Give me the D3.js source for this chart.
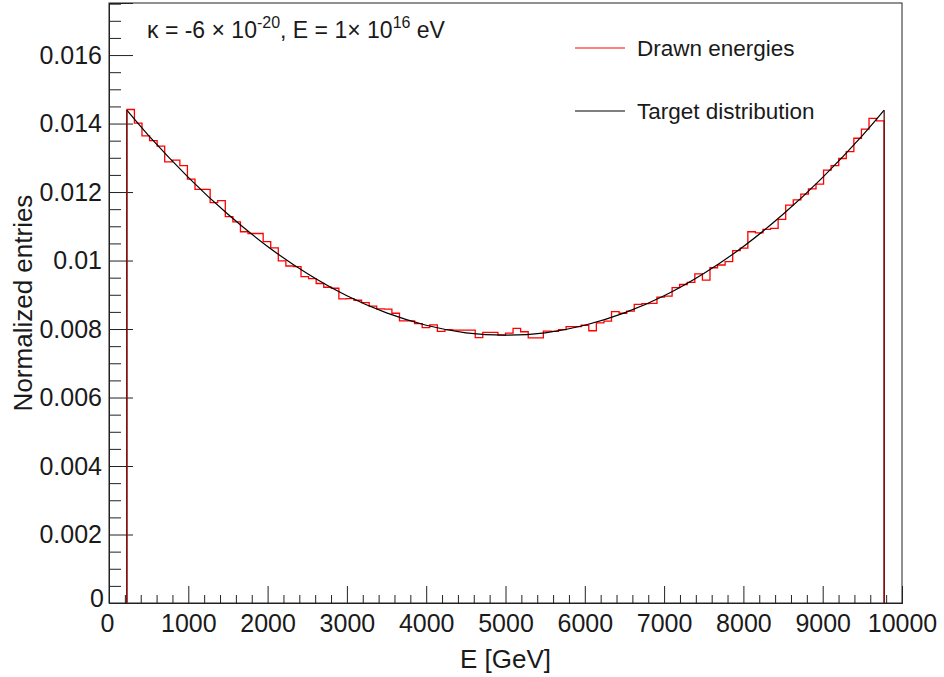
<!DOCTYPE html>
<html>
<head>
<meta charset="utf-8">
<script src="https://cdn.jsdelivr.net/npm/d3@7"></script>
<style>
  body { margin: 0; background: #fff; }
  text { font-family: "Liberation Sans", Arial, Helvetica, sans-serif; fill: #1a1a1a; }
</style>
</head>
<body>
<svg id="chart" width="944" height="677"></svg>
<script>
// histogram range (GeV) and normalized bin contents
var binRange = [225, 9775]
var drawnEnergies = [
  0.01441, 0.01401, 0.01364, 0.01350, 0.01334, 0.01288, 0.01293, 0.01277, 0.01238, 0.01208,
  0.01208, 0.01169, 0.01175, 0.01128, 0.01113, 0.01084, 0.01079, 0.01079, 0.01055, 0.01037,
  0.00999, 0.00984, 0.00982, 0.00953, 0.00947, 0.00933, 0.00922, 0.00919, 0.00888, 0.00889,
  0.00884, 0.00877, 0.00867, 0.00859, 0.00858, 0.00846, 0.00824, 0.00824, 0.00816, 0.00804,
  0.00812, 0.00793, 0.00798, 0.00797, 0.00797, 0.00797, 0.00775, 0.00790, 0.00790, 0.00782,
  0.00788, 0.00802, 0.00792, 0.00774, 0.00774, 0.00794, 0.00793, 0.00798, 0.00807, 0.00807,
  0.00811, 0.00795, 0.00818, 0.00823, 0.00851, 0.00846, 0.00852, 0.00872, 0.00874, 0.00875,
  0.00893, 0.00896, 0.00921, 0.00930, 0.00936, 0.00961, 0.00943, 0.00979, 0.00987, 0.00997,
  0.01029, 0.01036, 0.01084, 0.01081, 0.01091, 0.01094, 0.01120, 0.01162, 0.01177, 0.01194,
  0.01209, 0.01223, 0.01264, 0.01277, 0.01298, 0.01318, 0.01357, 0.01384, 0.01415, 0.01408
]

// target distribution sampled along the black curve
var targetE = [225, 500, 1000, 1500, 2000, 2500, 3000, 3500, 4000, 4500, 5000,
               5500, 6000, 6500, 7000, 7500, 8000, 8500, 9000, 9500, 9775]
var targetY = [0.01439, 0.01365, 0.01243, 0.01135, 0.01041, 0.00962, 0.00897, 0.00847, 0.00811, 0.00789, 0.00782,
               0.00789, 0.00811, 0.00847, 0.00897, 0.00962, 0.01041, 0.01135, 0.01243, 0.01365, 0.01439]

var xTicks = [0, 1000, 2000, 3000, 4000, 5000, 6000, 7000, 8000, 9000, 10000]
var yTicks = [0, 0.002, 0.004, 0.006, 0.008, 0.01, 0.012, 0.014, 0.016]
var yTickLabels = ["0", "0.002", "0.004", "0.006", "0.008", "0.01", "0.012", "0.014", "0.016"]

var legendLabels = ["Drawn energies", "Target distribution"]
var legendColors = ["#ff0000", "#000000"]

var frame = {left: 109, right: 902, top: 3, bottom: 603}
var svg = d3.select("#chart")

var xScale = d3.scaleLinear().domain([0, 10000]).range([frame.left, frame.right])
var yScale = d3.scaleLinear().domain([0, 0.01752]).range([frame.bottom, frame.top])

// frame box
svg.append("rect")
    .attr("x", frame.left).attr("y", frame.top)
    .attr("width", frame.right - frame.left).attr("height", frame.bottom - frame.top)
    .attr("fill", "none").attr("stroke", "#222").attr("stroke-width", 1)

// x axis: ticks inside pointing up, major 1000 / minor 200
var xMinor = d3.range(0, 10001, 200).filter(v => v % 1000 != 0)
svg.append("g").attr("transform", "translate(0," + frame.bottom + ")")
    .call(d3.axisBottom(xScale).tickValues(xMinor).tickSize(-8).tickFormat(""))
svg.append("g").attr("class", "xmajor").attr("transform", "translate(0," + frame.bottom + ")")
    .call(d3.axisBottom(xScale).tickValues(xTicks).tickSize(-17).tickPadding(11).tickFormat(d3.format("d")))

// y axis: ticks inside pointing right, major 0.002 / minor 0.0005
var yMinor = d3.range(0, 0.0176, 0.0005).filter(v => Math.abs(v / 0.002 - Math.round(v / 0.002)) > 0.01)
svg.append("g").attr("transform", "translate(" + frame.left + ",0)")
    .call(d3.axisLeft(yScale).tickValues(yMinor).tickSize(-12).tickFormat(""))
svg.append("g").attr("class", "ymajor").attr("transform", "translate(" + frame.left + ",0)")
    .call(d3.axisLeft(yScale).tickValues(yTicks).tickSize(-24).tickPadding(7)
        .tickFormat((d, i) => yTickLabels[i]))

svg.selectAll(".domain").attr("stroke", "#222")
svg.selectAll(".tick line").attr("stroke", "#222")
svg.selectAll(".xmajor text").attr("font-size", 25)
svg.selectAll(".ymajor text").attr("font-size", 25)
// ROOT pushes the "0" labels toward the corner
svg.selectAll(".ymajor .tick").filter(d => d == 0).select("text").attr("dy", "0.15em").attr("x", -5)
svg.selectAll(".xmajor .tick").filter(d => d == 0).select("text").attr("x", -2)

// axis titles
svg.append("text").attr("x", (frame.left + frame.right) / 2).attr("y", 668)
    .attr("text-anchor", "middle").attr("font-size", 26).text("E [GeV]")
svg.append("text")
    .attr("transform", "translate(32," + ((frame.top + frame.bottom) / 2) + ") rotate(-90)")
    .attr("text-anchor", "middle").attr("font-size", 26).text("Normalized entries")

// histogram of drawn energies
var binW = (binRange[1] - binRange[0]) / drawnEnergies.length
var histPts = [[binRange[0], 0]]
drawnEnergies.forEach((v, i) => {
    histPts.push([binRange[0] + i * binW, v])
    histPts.push([binRange[0] + (i + 1) * binW, v])
})
histPts.push([binRange[1], 0])
svg.append("path").datum(histPts)
    .attr("fill", "none").attr("stroke", "#ff0000").attr("stroke-width", 1.3)
    .attr("d", d3.line().x(d => xScale(d[0])).y(d => yScale(d[1])))

// target curve + its edges
var targetPts = targetE.map((e, i) => [e, targetY[i]])
svg.append("path").datum(targetPts)
    .attr("fill", "none").attr("stroke", "#000").attr("stroke-width", 1.2)
    .attr("d", d3.line().x(d => xScale(d[0])).y(d => yScale(d[1])).curve(d3.curveNatural))
var edges = [[targetE[0], targetY[0]], [targetE[targetE.length - 1], targetY[targetY.length - 1]]]
svg.selectAll(".edge").data(edges).enter().append("line")
    .attr("x1", d => xScale(d[0])).attr("x2", d => xScale(d[0]))
    .attr("y1", yScale(0)).attr("y2", d => yScale(d[1]))
    .attr("stroke", "#5a1010").attr("stroke-width", 1.3)

// annotation
var note = svg.append("text").attr("x", 147).attr("y", 38).attr("font-size", 23)
note.append("tspan").text("\u03ba = -6 \u00d7 10")
note.append("tspan").attr("dy", -10).attr("font-size", 16).text("-20")
note.append("tspan").attr("dy", 10).text(", E = 1\u00d7 10")
note.append("tspan").attr("dy", -10).attr("font-size", 16).text("16")
note.append("tspan").attr("dy", 10).text(" eV")

// legend
var legend = svg.selectAll(".leg").data(legendLabels).enter().append("g")
    .attr("transform", (d, i) => "translate(575," + (48 + i * 63) + ")")
legend.append("line").attr("x1", 0).attr("x2", 50)
    .attr("stroke", (d, i) => legendColors[i]).attr("stroke-width", 1.2)
legend.append("text").attr("x", 62).attr("dy", "0.35em").attr("font-size", 22.5).text(d => d)
</script>
</body>
</html>
